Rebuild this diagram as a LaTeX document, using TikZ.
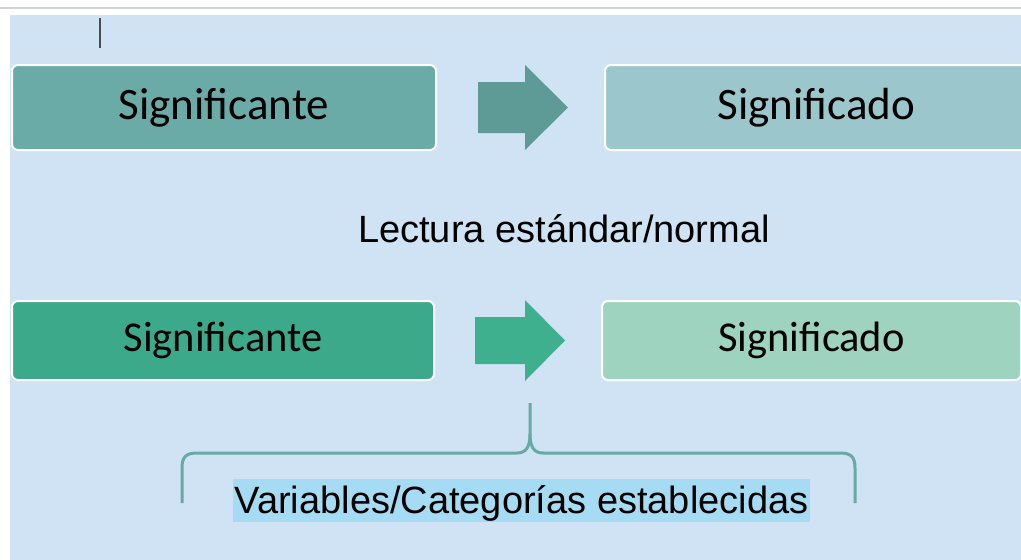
\documentclass[tikz,border=0pt]{standalone}
\usepackage{fontspec}
\newfontfamily\boxfont{Carlito}
\newfontfamily\arialfont{Liberation Sans}
\definecolor{bgblue}{HTML}{CFE3F4}
\definecolor{boxa}{HTML}{6AABA8}
\definecolor{arra}{HTML}{5E9B96}
\definecolor{boxb}{HTML}{9BC6CB}
\definecolor{boxc}{HTML}{3BA98A}
\definecolor{arrc}{HTML}{3EB08E}
\definecolor{boxd}{HTML}{9DD3BF}
\definecolor{bracecol}{HTML}{67A9A3}
\definecolor{hilite}{HTML}{A6DCF3}
\definecolor{topline}{HTML}{D4D4D4}
\tikzset{
  stepbox/.style={draw=white, line width=2pt, rounded corners=6pt, inner sep=0pt, text=black},
  toptext/.style={font=\boxfont\fontsize{45}{54}\selectfont},
  bottext/.style={font=\boxfont\fontsize{42.5}{51}\selectfont},
  plain/.style={font=\arialfont\fontsize{38}{45}\selectfont, text=black, inner sep=0pt},
  bracestyle/.style={draw=bracecol, line width=3pt, line join=round}
}
\begin{document}
\begin{tikzpicture}[x=1pt,y=-1pt]
\useasboundingbox (0,0) rectangle (1021,560);
\clip (0,0) rectangle (1021,560);
\fill[white] (0,0) rectangle (1021,560);
\fill[topline] (0,7) rectangle (1021,9);
\fill[bgblue] (10,15) rectangle (1021,560);
% text cursor
\draw[black!70, line width=1.2pt] (100,18) -- (100,48);
% top row
\node[stepbox, fill=boxa, toptext, minimum width=424pt, minimum height=85pt] (sa) at (224,107.5) {Significante};
\node[stepbox, fill=boxb, toptext, minimum width=423pt, minimum height=85pt] (sb) at (816.5,107.5) {Significado};
\fill[arra] (478,82) -- (525,82) -- (525,65) -- (568,107.5) -- (525,150) -- (525,133) -- (478,133) -- cycle;
% middle text
\node[plain, anchor=base] (lect) at (564,242) {Lectura estándar/normal};
% bottom row
\node[stepbox, fill=boxc, bottext, minimum width=422pt, minimum height=79pt] (sc) at (223,340.5) {Significante};
\node[stepbox, fill=boxd, bottext, minimum width=419pt, minimum height=79pt] (sd) at (811.5,340.5) {Significado};
\fill[arrc] (475,317) -- (525,317) -- (525,300) -- (565,340.5) -- (525,381) -- (525,364) -- (475,364) -- cycle;
% brace
\draw[bracestyle] (182,503) -- (182,468) .. controls (182,457) and (186,453) .. (197,453) -- (517,453) .. controls (526,453) and (530,447) .. (530,434) -- (530,403);
\draw[bracestyle] (530,434) .. controls (530,447) and (534,453) .. (543,453) -- (840,453) .. controls (851,453) and (855,457) .. (855,468) -- (855,503);
% highlighted label
\node[plain, fill=hilite, inner xsep=1.5pt, text height=34.4pt, text depth=8.3pt] (vars) at (521.5,500.5) {Variables/Categorías establecidas};
\end{tikzpicture}
\end{document}
